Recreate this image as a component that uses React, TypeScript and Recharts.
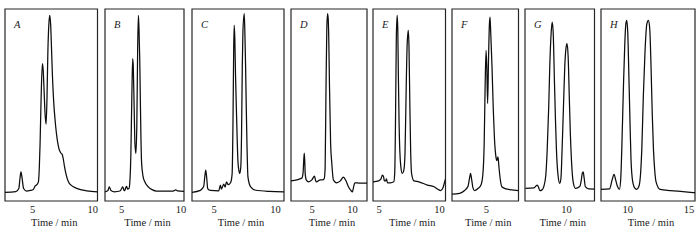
import { Label, Line, LineChart, ReferenceArea, XAxis, YAxis } from "recharts";

// retention time (min) and detector signal (relative units), one pair per sample
const aTime = [2.7, 3.6, 3.85, 3.95, 4.03, 4.12, 4.25, 4.5, 4.8, 5.06, 5.2, 5.35, 5.48, 5.56, 5.62, 5.7, 5.81, 5.88, 5.95, 6.03, 6.12, 6.2, 6.27, 6.35, 6.42, 6.5, 6.57, 6.65, 6.75, 6.9, 7.05, 7.2, 7.35, 7.45, 7.55, 7.65, 7.8, 7.98, 8.25, 8.67, 9.5, 10.4];
const aSignal = [4.5, 4.9, 6.5, 12, 15.2, 12, 6.5, 5.2, 5.5, 6.0, 7.8, 8.5, 10, 18, 30, 52, 71.6, 68, 58, 46, 40, 55, 78, 92, 96.7, 92, 80, 65, 52, 40, 32, 27, 25, 24.4, 22, 18, 13.5, 10, 8, 6.6, 5.3, 4.8];

const bTime = [3.6, 3.85, 3.96, 4.1, 4.4, 4.86, 5.0, 5.09, 5.2, 5.26, 5.35, 5.42, 5.5, 5.62, 5.71, 5.78, 5.86, 5.93, 5.98, 6.05, 6.12, 6.2, 6.28, 6.35, 6.41, 6.46, 6.52, 6.57, 6.62, 6.68, 6.8, 6.95, 7.24, 7.6, 7.94, 9.34, 9.54, 9.7, 10.25];
const bSignal = [4.8, 5.5, 7.4, 5.5, 4.8, 5.2, 6.5, 7.4, 5.6, 5.4, 7, 7.6, 6.2, 6.5, 12, 25, 55, 74.2, 70, 50, 30, 24.8, 40, 80, 96.7, 90, 75, 55, 35, 20, 13, 10, 7.4, 5.8, 5.2, 5.2, 5.8, 5.3, 5.0];

const cTime = [3.2, 3.88, 4.15, 4.25, 4.32, 4.4, 4.48, 4.7, 5.38, 5.52, 5.6, 5.79, 5.9, 6.01, 6.15, 6.34, 6.47, 6.54, 6.6, 6.64, 6.69, 6.75, 6.8, 6.88, 6.94, 7.02, 7.1, 7.18, 7.24, 7.3, 7.35, 7.46, 7.52, 7.57, 7.62, 7.68, 7.76, 7.98, 8.4, 9.5, 10.7];
const cSignal = [4.5, 5.5, 7.5, 13, 16.1, 12, 6.5, 5.5, 5.3, 8.3, 6.2, 8.8, 7.2, 10, 8.5, 9.5, 14, 40, 80, 91.5, 85, 65, 52.5, 33, 21.3, 16, 14.4, 18, 35, 70, 88, 97.6, 85, 69.8, 50, 30, 12.6, 7.4, 5.6, 5.0, 4.8];

const dTime = [2.4, 3.14, 3.5, 3.75, 3.9, 3.96, 4.04, 4.1, 4.16, 4.29, 4.57, 4.98, 5.31, 5.45, 5.6, 6.01, 6.3, 6.5, 6.62, 6.72, 6.83, 6.92, 7.0, 7.07, 7.16, 7.3, 7.44, 7.65, 8.06, 8.5, 8.88, 9.2, 9.5, 9.8, 10.0, 10.15, 10.3, 10.93, 11.8];
const dSignal = [10.5, 11, 11.5, 12, 15, 20, 25, 21, 14, 11, 10, 11, 13, 10.5, 10, 11, 11, 11.5, 17, 55, 90, 97.6, 95, 85, 60, 30, 20, 10.9, 9.5, 10.5, 12.5, 10.5, 7.4, 5.5, 4.8, 7.5, 9.5, 9.3, 9.3];

const eTime = [4.5, 4.97, 5.16, 5.28, 5.38, 5.44, 5.55, 5.61, 5.7, 5.94, 6.22, 6.3, 6.36, 6.43, 6.5, 6.55, 6.6, 6.66, 6.72, 6.8, 6.92, 7.05, 7.15, 7.25, 7.33, 7.42, 7.48, 7.55, 7.62, 7.7, 7.89, 8.3, 9.0, 9.55, 9.9, 10.1, 10.3, 10.45, 10.5];
const eSignal = [10, 10.5, 11.5, 13.5, 12.5, 10.5, 10.5, 11.5, 9.5, 9.5, 10, 15, 40, 85, 96.7, 90, 65, 40, 26, 18, 14.4, 16, 25, 60, 82, 88.9, 80, 50, 25, 14, 10.5, 10, 8.3, 7.4, 6, 5.4, 7, 10.5, 11.5];

const fTime = [2.1, 2.74, 3.16, 3.44, 3.58, 3.66, 3.76, 3.86, 4.0, 4.28, 4.55, 4.7, 4.81, 4.89, 4.97, 5.03, 5.1, 5.18, 5.25, 5.3, 5.36, 5.47, 5.58, 5.68, 5.8, 5.88, 5.97, 6.05, 6.15, 6.3, 6.64, 7.7];
const fSignal = [3.6, 4, 5.5, 7.5, 12, 14.4, 11, 7, 5.4, 6.5, 8.5, 14, 30, 60, 78.5, 70, 50.8, 75, 92, 95.8, 88, 69.8, 47, 32, 23, 21, 23, 18, 12, 7.4, 6.3, 5.4];

const gTime = [6.64, 7.32, 7.5, 7.6, 7.72, 7.81, 8.0, 8.14, 8.3, 8.42, 8.55, 8.63, 8.74, 8.83, 8.91, 9.02, 9.1, 9.18, 9.3, 9.45, 9.55, 9.64, 9.75, 9.86, 9.97, 10.05, 10.14, 10.24, 10.32, 10.41, 10.55, 10.74, 11.09, 11.22, 11.3, 11.37, 11.45, 11.55, 11.83, 12.3];
const gSignal = [6.6, 6.8, 7.8, 8.3, 7, 5.4, 5.8, 7.5, 13, 26.5, 50, 69.8, 87, 93.2, 88, 61, 42, 26.5, 14, 9.2, 12, 26.5, 48, 69.8, 80, 82, 75, 52.5, 35, 21.3, 10, 6.6, 7.5, 11, 14.5, 15.2, 12, 7.5, 6.3, 6.2];

const hTime = [7.8, 8.5, 8.71, 8.87, 9.0, 9.15, 9.31, 9.42, 9.5, 9.64, 9.75, 9.83, 9.91, 9.99, 10.1, 10.18, 10.26, 10.4, 10.6, 10.73, 10.9, 11.05, 11.14, 11.27, 11.41, 11.55, 11.68, 11.79, 11.9, 12.0, 12.1, 12.2, 12.31, 12.64, 13.5, 14.5, 15.5];
const hSignal = [6.1, 6.3, 11, 13.9, 11, 7.5, 6.1, 12, 26.5, 60, 82, 92, 94.1, 88, 61, 40, 21.3, 10, 6.5, 6.1, 7.5, 15, 26.5, 55, 78.5, 92, 94.1, 90, 69.8, 45, 26.5, 16, 10, 6.1, 5.4, 4.9, 4.3];

const panelNames = ["A", "B", "C", "D", "E", "F", "G", "H"];
const timeRanges: [number, number][] = [
  [2.7, 10.4], [3.6, 10.25], [3.2, 10.7], [2.4, 11.8],
  [4.5, 10.5], [2.1, 7.7], [6.6, 12.3], [7.8, 15.5],
];
const tickLists = [[5, 10], [5, 10], [5, 10], [5, 10], [5, 10], [5], [10], [10, 15]];

const times = [aTime, bTime, cTime, dTime, eTime, fTime, gTime, hTime];
const signals = [aSignal, bSignal, cSignal, dSignal, eSignal, fSignal, gSignal, hSignal];

// left / right edge of each frame in the figure
const frames = [
  [5, 97.5], [105, 184], [191.5, 283.5], [290.5, 366.5],
  [372.5, 445], [452, 518.5], [525, 594.5], [601, 695],
];

const PAD = 8;
const FONT = "Liberation Serif, Times New Roman, serif";

function Panel({ idx }: { idx: number }) {
  const [lo, hi] = timeRanges[idx];
  const [left, right] = frames[idx];
  const data = times[idx].map((t, i) => ({ t, v: signals[idx][i] }));
  const name = panelNames[idx];

  return (
    <div style={{ position: "absolute", left: left - PAD, top: 0 }}>
      <LineChart
        width={right - left + PAD * 2}
        height={241}
        data={data}
        margin={{ top: 9, right: PAD, bottom: 0, left: PAD }}
      >
        <XAxis
          dataKey="t"
          type="number"
          domain={[lo, hi]}
          allowDataOverflow
          ticks={tickLists[idx]}
          interval={0}
          height={40}
          axisLine={false}
          tickLine={false}
          tickSize={2}
          tickMargin={3}
          tick={{ fontSize: 10.5, fill: "#1a1a1a", fontFamily: FONT }}
        >
          <Label
            content={(p: any) => {
              const vb = p.viewBox || {};
              return (
                <text
                  x={vb.x + vb.width / 2 + 3}
                  y={vb.y + 24.5}
                  textAnchor="middle"
                  fontSize={10.5}
                  fill="#1a1a1a"
                  fontFamily={FONT}
                >
                  Time / min
                </text>
              );
            }}
          />
        </XAxis>
        <YAxis hide type="number" domain={[0, 100]} allowDataOverflow />
        <ReferenceArea
          x1={lo}
          x2={hi}
          y1={0}
          y2={100}
          fill="none"
          stroke="#262626"
          strokeWidth={1.2}
          label={(p: any) => {
            const vb = p.viewBox || {};
            return (
              <text
                x={vb.x + 9}
                y={vb.y + 19}
                fontSize={10.5}
                fontStyle="italic"
                fill="#1a1a1a"
                fontFamily={FONT}
              >
                {name}
              </text>
            );
          }}
        />
        <Line
          type="monotone"
          dataKey="v"
          stroke="#0d0d0d"
          strokeWidth={1.25}
          dot={false}
          isAnimationActive={false}
        />
      </LineChart>
    </div>
  );
}

export default function App() {
  return (
    <div
      style={{
        position: "absolute",
        left: 0,
        top: 0,
        width: 700,
        height: 241,
        background: "#fff",
        overflow: "hidden",
      }}
    >
      {panelNames.map((_, i) => (
        <Panel key={i} idx={i} />
      ))}
    </div>
  );
}
